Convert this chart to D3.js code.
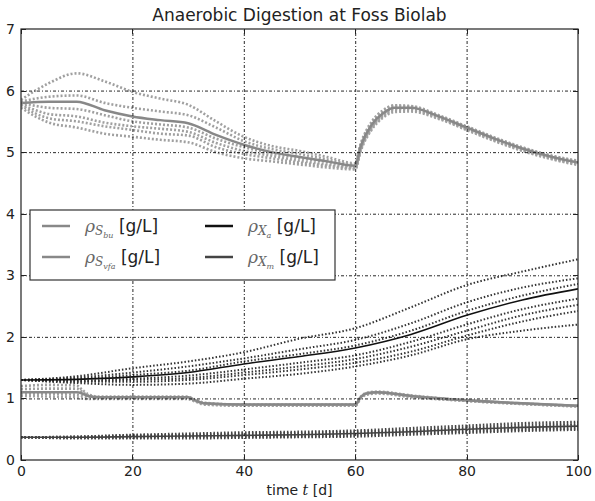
<!DOCTYPE html>
<html lang="en">
<head>
    <meta charset="UTF-8">
    <title>Anaerobic Digestion at Foss Biolab</title>
    <script src="https://cdn.jsdelivr.net/npm/d3@7/dist/d3.min.js"></script>
    <style>
        body { margin: 0; background: #fff; }
        svg text { font-family: "DejaVu Sans", sans-serif; }
        svg g.axis path { display: none; }
        svg g.axis line { stroke: #222; shape-rendering: crispEdges; }
        svg g.axis text { font-size: 14px; fill: #222; }
        svg g.grid line { stroke: #111; stroke-dasharray: 3,2,1,2; stroke-width: 0.9; }
        svg g.grid path { display: none; }
    </style>
</head>
<body>
    <script>
        //size and plot box
        var w = 595;
        var h = 501;
        var pLeft = 21, pRight = 578, pTop = 29, pBottom = 460;

        //tick labels
        var xTicks = [0, 20, 40, 60, 80, 100];
        var yTicks = [0, 1, 2, 3, 4, 5, 6, 7];

        //top group (S_bu) - time points, nominal run and ensemble runs
        var tTop = [0, 5, 10, 15, 20, 25, 30, 35, 40, 45, 50, 55, 60, 61, 63, 65, 67, 70, 75, 80, 85, 90, 95, 100];
        var sbuMain = [5.8, 5.82, 5.82, 5.68, 5.58, 5.52, 5.47, 5.28, 5.12, 5.0, 4.92, 4.85, 4.78, 5.1, 5.45, 5.63, 5.72, 5.72, 5.58, 5.4, 5.22, 5.06, 4.93, 4.83];
        var sbuRun1 = [5.85, 6.12, 6.28, 6.15, 5.98, 5.87, 5.77, 5.5, 5.25, 5.1, 5.02, 4.92, 4.82, 5.14, 5.5, 5.68, 5.76, 5.75, 5.6, 5.42, 5.24, 5.08, 4.95, 4.86];
        var sbuRun2 = [5.82, 5.9, 5.92, 5.8, 5.72, 5.66, 5.6, 5.4, 5.18, 5.05, 4.97, 4.88, 4.8, 5.12, 5.47, 5.66, 5.75, 5.74, 5.59, 5.41, 5.23, 5.07, 4.94, 4.85];
        var sbuRun3 = [5.8, 5.72, 5.7, 5.6, 5.5, 5.45, 5.4, 5.22, 5.08, 4.98, 4.9, 4.84, 4.77, 5.08, 5.43, 5.62, 5.71, 5.71, 5.57, 5.39, 5.21, 5.05, 4.92, 4.82];
        var sbuRun4 = [5.78, 5.62, 5.58, 5.48, 5.42, 5.38, 5.33, 5.15, 5.02, 4.94, 4.86, 4.8, 4.75, 5.06, 5.41, 5.6, 5.69, 5.7, 5.56, 5.38, 5.2, 5.04, 4.91, 4.81];
        var sbuRun5 = [5.76, 5.55, 5.5, 5.42, 5.36, 5.3, 5.27, 5.08, 4.97, 4.9, 4.83, 4.78, 4.74, 5.04, 5.39, 5.58, 5.67, 5.68, 5.55, 5.37, 5.19, 5.03, 4.9, 4.8];
        var sbuRun6 = [5.72, 5.48, 5.4, 5.3, 5.25, 5.2, 5.16, 5.0, 4.9, 4.85, 4.8, 4.75, 4.72, 5.02, 5.37, 5.56, 5.65, 5.66, 5.54, 5.36, 5.18, 5.02, 4.89, 4.79];

        //S_vfa group near 1 g/L
        var tVfa = [0, 5, 10, 11, 12, 14, 20, 30, 31, 33, 40, 50, 60, 61, 62, 64, 70, 80, 90, 100];
        var svfaMain = [1.1, 1.1, 1.1, 1.08, 1.04, 1.02, 1.02, 1.02, 0.98, 0.92, 0.9, 0.9, 0.9, 1.02, 1.08, 1.1, 1.04, 0.97, 0.92, 0.88];
        var svfaRun1 = [1.2, 1.22, 1.21, 1.14, 1.07, 1.03, 1.03, 1.03, 0.99, 0.93, 0.9, 0.9, 0.9, 1.03, 1.09, 1.11, 1.05, 0.97, 0.92, 0.88];
        var svfaRun2 = [1.15, 1.16, 1.16, 1.11, 1.05, 1.02, 1.02, 1.02, 0.98, 0.92, 0.9, 0.9, 0.9, 1.02, 1.08, 1.1, 1.04, 0.97, 0.92, 0.88];
        var svfaRun3 = [1.08, 1.07, 1.06, 1.04, 1.02, 1.01, 1.01, 1.01, 0.97, 0.91, 0.89, 0.89, 0.89, 1.01, 1.07, 1.09, 1.03, 0.96, 0.91, 0.87];
        var svfaRun4 = [1.04, 1.03, 1.02, 1.0, 0.99, 0.99, 0.99, 0.99, 0.96, 0.9, 0.88, 0.88, 0.88, 1.0, 1.06, 1.08, 1.02, 0.96, 0.91, 0.87];

        //X_a group
        var tXa = [0, 10, 20, 30, 40, 50, 60, 70, 80, 90, 100];
        var xaMain = [1.3, 1.31, 1.35, 1.42, 1.56, 1.68, 1.82, 2.04, 2.35, 2.6, 2.78];
        var xaRun1 = [1.3, 1.36, 1.49, 1.6, 1.75, 1.97, 2.14, 2.48, 2.84, 3.06, 3.26];
        var xaRun2 = [1.3, 1.34, 1.42, 1.52, 1.65, 1.8, 1.95, 2.22, 2.56, 2.8, 2.95];
        var xaRun3 = [1.3, 1.32, 1.38, 1.45, 1.6, 1.72, 1.86, 2.1, 2.42, 2.67, 2.86];
        var xaRun4 = [1.3, 1.29, 1.32, 1.37, 1.47, 1.58, 1.7, 1.92, 2.2, 2.45, 2.62];
        var xaRun5 = [1.3, 1.28, 1.3, 1.33, 1.42, 1.52, 1.64, 1.84, 2.1, 2.35, 2.52];
        var xaRun6 = [1.3, 1.27, 1.27, 1.3, 1.38, 1.47, 1.58, 1.76, 2.02, 2.25, 2.42];
        var xaRun7 = [1.3, 1.25, 1.22, 1.24, 1.32, 1.4, 1.52, 1.7, 1.96, 2.1, 2.2];

        //X_m group
        var tXm = [0, 10, 20, 30, 40, 50, 60, 70, 80, 90, 100];
        var xmMain = [0.37, 0.37, 0.38, 0.39, 0.4, 0.41, 0.43, 0.46, 0.5, 0.53, 0.55];
        var xmRun1 = [0.37, 0.38, 0.41, 0.43, 0.45, 0.46, 0.48, 0.52, 0.56, 0.6, 0.62];
        var xmRun2 = [0.37, 0.38, 0.4, 0.41, 0.43, 0.44, 0.46, 0.49, 0.53, 0.57, 0.59];
        var xmRun3 = [0.37, 0.37, 0.39, 0.4, 0.41, 0.42, 0.44, 0.47, 0.51, 0.54, 0.57];
        var xmRun4 = [0.37, 0.36, 0.37, 0.38, 0.39, 0.4, 0.42, 0.45, 0.48, 0.51, 0.53];
        var xmRun5 = [0.37, 0.36, 0.36, 0.37, 0.37, 0.38, 0.4, 0.43, 0.46, 0.49, 0.51];
        var xmRun6 = [0.37, 0.35, 0.35, 0.35, 0.36, 0.37, 0.38, 0.41, 0.44, 0.47, 0.49];

        //scales
        var xScale = d3.scaleLinear().domain([0, 100]).range([pLeft, pRight]);
        var yScale = d3.scaleLinear().domain([0, 7]).range([pBottom, pTop]);

        var svg = d3.select('body')
                    .append('svg')
                    .attr('width', w)
                    .attr('height', h);

        svg.append('clipPath').attr('id', 'box')
            .append('rect')
            .attr('x', pLeft).attr('y', pTop)
            .attr('width', pRight - pLeft).attr('height', pBottom - pTop);
        var plot = svg.append('g').attr('clip-path', 'url(#box)');

        function zip(ts, vs) {
            return ts.map(function(t, i) { return [t, vs[i]]; });
        }

        var line = d3.line()
            .x(function(d) { return xScale(d[0]); })
            .y(function(d) { return yScale(d[1]); })
            .curve(d3.curveMonotoneX);

        function drawRuns(ts, runs, color, width, dash) {
            runs.forEach(function(r) {
                plot.append('path')
                    .attr('d', line(zip(ts, r)))
                    .attr('fill', 'none')
                    .attr('stroke', color)
                    .attr('stroke-width', width)
                    .attr('stroke-dasharray', dash);
            });
        }

        function drawMain(ts, vs, color, width) {
            plot.append('path')
                .attr('d', line(zip(ts, vs)))
                .attr('fill', 'none')
                .attr('stroke', color)
                .attr('stroke-width', width);
        }

        //ensemble runs (dotted)
        drawRuns(tTop, [sbuRun1, sbuRun2, sbuRun3, sbuRun4, sbuRun5, sbuRun6], '#a0a0a0', 2.6, '2,2');
        drawRuns(tVfa, [svfaRun1, svfaRun2, svfaRun3, svfaRun4], '#a0a0a0', 2.6, '2,2');
        drawRuns(tXa, [xaRun1, xaRun2, xaRun3, xaRun4, xaRun5, xaRun6, xaRun7], '#333', 2, '1.5,2');
        drawRuns(tXm, [xmRun1, xmRun2, xmRun3, xmRun4, xmRun5, xmRun6], '#444', 2.2, '1.5,2');

        //nominal runs
        drawMain(tTop, sbuMain, '#888', 2.5);
        drawMain(tVfa, svfaMain, '#888', 2.5);
        drawMain(tXa, xaMain, '#111', 1.6);
        drawMain(tXm, xmMain, '#444', 1.6);

        //grid
        svg.append('g')
            .attr('class', 'grid')
            .attr('transform', 'translate(0,' + pBottom + ')')
            .call(d3.axisBottom(xScale).tickValues([20, 40, 60, 80]).tickSize(-(pBottom - pTop)).tickFormat(''));
        svg.append('g')
            .attr('class', 'grid')
            .attr('transform', 'translate(' + pLeft + ',0)')
            .call(d3.axisLeft(yScale).tickValues([1, 2, 3, 4, 5, 6]).tickSize(-(pRight - pLeft)).tickFormat(''));

        //axes with inward ticks
        svg.append('g')
            .attr('class', 'axis')
            .attr('transform', 'translate(0,' + pBottom + ')')
            .call(d3.axisBottom(xScale).tickValues(xTicks).tickSize(-5).tickPadding(6).tickFormat(d3.format('d')));
        svg.append('g')
            .attr('class', 'axis')
            .attr('transform', 'translate(0,' + pTop + ')')
            .call(d3.axisTop(xScale).tickValues(xTicks).tickSize(-5).tickFormat(''));
        svg.append('g')
            .attr('class', 'axis')
            .attr('transform', 'translate(' + pLeft + ',0)')
            .call(d3.axisLeft(yScale).tickValues(yTicks).tickSize(-5).tickPadding(6).tickFormat(d3.format('d')));
        svg.append('g')
            .attr('class', 'axis')
            .attr('transform', 'translate(' + pRight + ',0)')
            .call(d3.axisRight(yScale).tickValues(yTicks).tickSize(-5).tickFormat(''));

        //frame
        svg.append('rect')
            .attr('x', pLeft).attr('y', pTop)
            .attr('width', pRight - pLeft).attr('height', pBottom - pTop)
            .attr('fill', 'none')
            .attr('stroke', '#222')
            .attr('stroke-width', 1.2);

        //title and x label
        svg.append('text')
            .attr('x', (pLeft + pRight) / 2)
            .attr('y', 21)
            .attr('text-anchor', 'middle')
            .attr('font-size', '17px')
            .attr('fill', '#222')
            .text('Anaerobic Digestion at Foss Biolab');

        var xl = svg.append('text')
            .attr('x', (pLeft + pRight) / 2)
            .attr('y', 495)
            .attr('text-anchor', 'middle')
            .attr('font-size', '14px')
            .attr('fill', '#222');
        xl.append('tspan').text('time ');
        xl.append('tspan').attr('font-family', 'DejaVu Serif').attr('font-style', 'italic').text('t');
        xl.append('tspan').text(' [d]');

        //legend
        var legend = svg.append('g');
        legend.append('rect')
            .attr('x', 30).attr('y', 210)
            .attr('width', 305).attr('height', 70)
            .attr('fill', '#fff')
            .attr('stroke', '#333')
            .attr('stroke-width', 1.2);

        var legendItems = [
            {sym: 'S', sub: 'bu', color: '#888', width: 2.5, col: 0, row: 0},
            {sym: 'S', sub: 'vfa', color: '#888', width: 2.5, col: 0, row: 1},
            {sym: 'X', sub: 'a', color: '#111', width: 2.5, col: 1, row: 0},
            {sym: 'X', sub: 'm', color: '#444', width: 2.5, col: 1, row: 1}
        ];

        legendItems.forEach(function(d) {
            var lx = d.col === 0 ? 42 : 205;
            var ly = d.row === 0 ? 226 : 257;
            legend.append('line')
                .attr('x1', lx).attr('x2', lx + 28)
                .attr('y1', ly).attr('y2', ly)
                .attr('stroke', d.color)
                .attr('stroke-width', d.width);
            var t = legend.append('text')
                .attr('x', lx + 43)
                .attr('y', ly + 6)
                .attr('font-size', '17px')
                .attr('fill', '#222');
            t.append('tspan').attr('font-family', 'DejaVu Serif').attr('font-style', 'italic').attr('fill', '#666').text('\u03c1');
            t.append('tspan').attr('font-family', 'DejaVu Serif').attr('font-style', 'italic').attr('fill', '#666')
                .attr('font-size', '12px').attr('dy', 3).text(d.sym);
            t.append('tspan').attr('font-family', 'DejaVu Serif').attr('font-style', 'italic').attr('fill', '#666')
                .attr('font-size', '8px').attr('dy', 3).text(d.sub);
            t.append('tspan').attr('dy', -6).text(' [g/L]');
        });
    </script>
</body>
</html>
